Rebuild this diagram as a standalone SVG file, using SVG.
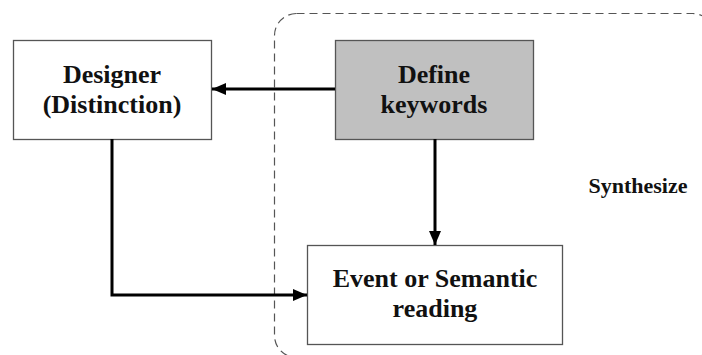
<svg xmlns="http://www.w3.org/2000/svg" width="702" height="355" viewBox="0 0 702 355">
<style>
.box{stroke:#555;stroke-width:1.3}
.t{font-family:"Liberation Serif","Times New Roman",serif;font-weight:bold;font-size:26px;fill:#111;text-anchor:middle}
.c{fill:none;stroke:#000;stroke-width:3}
</style>
<defs>
<marker id="ah" markerWidth="14" markerHeight="12" refX="14" refY="6" orient="auto" markerUnits="userSpaceOnUse">
<path d="M0,0 L14,6 L0,12 Z" fill="#000"/>
</marker>
</defs>
<rect width="702" height="355" fill="#fff"/>
<g id="synthesize-region">
<rect x="274.5" y="13.5" width="440" height="344" rx="22" ry="22" fill="none" stroke="#555" stroke-width="1.2" stroke-dasharray="8,5"/>
<text x="638" y="193" style="font-family:'Liberation Serif','Times New Roman',serif;font-weight:bold;font-size:22px;fill:#111;text-anchor:middle">Synthesize</text>
</g>
<g id="designer">
<rect class="box" x="13.5" y="40.5" width="198" height="99" fill="#fff"/>
<text class="t" x="112" y="83">Designer</text>
<text class="t" x="112" y="113">(Distinction)</text>
</g>
<g id="define-keywords">
<rect class="box" x="335.5" y="40.5" width="198" height="99" fill="#c0c0c0"/>
<text class="t" x="434" y="83">Define</text>
<text class="t" x="434" y="113">keywords</text>
</g>
<g id="event">
<rect class="box" x="307.5" y="245.5" width="255" height="99" fill="#fff"/>
<text class="t" x="435" y="287">Event or Semantic</text>
<text class="t" x="435" y="317">reading</text>
</g>
<g id="connectors">
<line class="c" x1="335" y1="89" x2="212" y2="89" marker-end="url(#ah)"/>
<line class="c" x1="435" y1="139" x2="435" y2="245" marker-end="url(#ah)"/>
<polyline class="c" points="112,139 112,295 307,295" marker-end="url(#ah)"/>
</g>
</svg>
